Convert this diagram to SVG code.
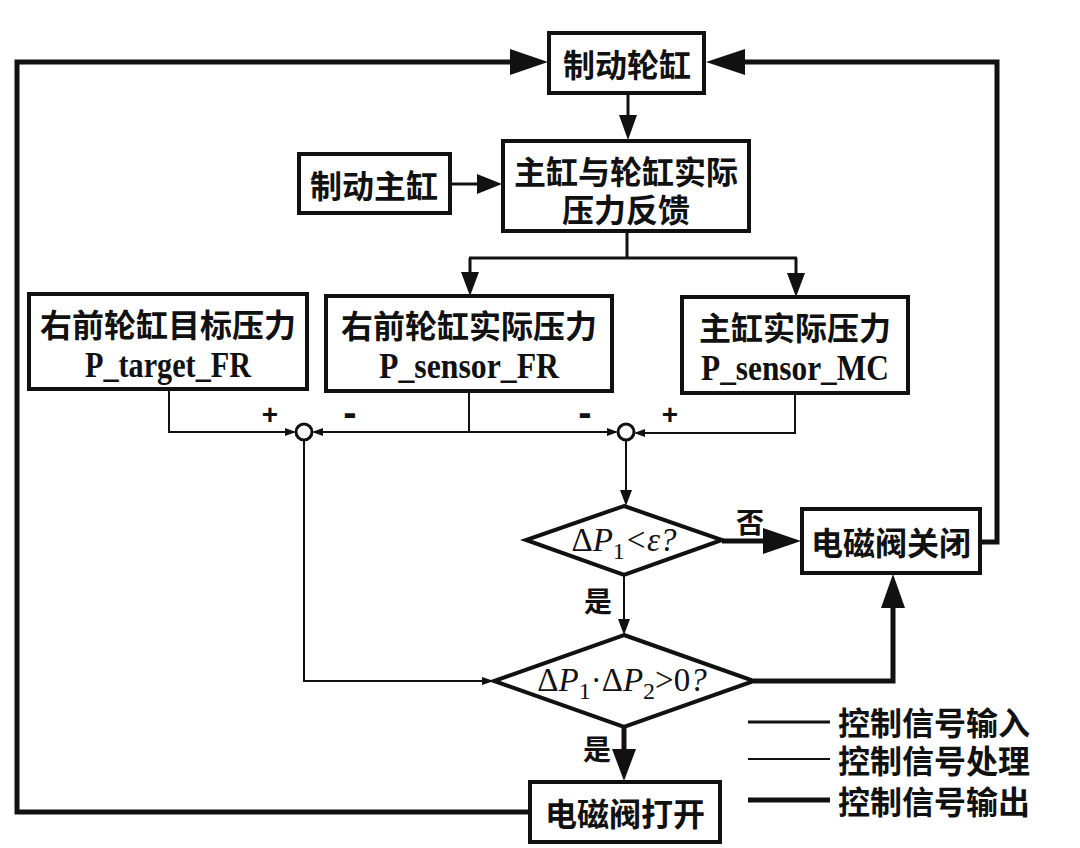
<svg xmlns="http://www.w3.org/2000/svg" width="1080" height="848" viewBox="0 0 1080 848">
<style>
.box{fill:#fff;stroke:#111;stroke-width:4}
.cjk{font-family:"Noto Sans CJK SC","Noto Sans",sans-serif;font-weight:700;font-size:32px;fill:#111}
.lat{font-family:"Liberation Serif",serif;font-weight:700;font-size:35px;fill:#111}
.math{font-family:"Liberation Serif",serif;font-style:italic;font-size:33px;fill:#111}
.up{font-style:normal}
.sign{font-family:"Liberation Sans",sans-serif;font-weight:700;font-size:28px;fill:#111}
.in{stroke:#111;stroke-width:3;fill:none}
.proc{stroke:#111;stroke-width:2;fill:none}
.out{stroke:#111;stroke-width:5;fill:none}
.ah{fill:#111}
.jn{fill:#fff;stroke:#111;stroke-width:3}
</style>
<rect width="1080" height="848" fill="#fff"/>
<g id="connectors">
  <path class="out" d="M530,812 H17 V62 H512"/>
  <polygon class="ah" points="548,62 510,49 510,75"/>
  <path class="out" d="M980,542 H997 V62 H744"/>
  <polygon class="ah" points="706,62 745,49 745,75"/>
  <path class="out" d="M722,541 H766"/>
  <polygon class="ah" points="801,541 763,528 763,554"/>
  <path class="out" d="M754,681 H893 V606"/>
  <polygon class="ah" points="893,574 881,608 905,608"/>
  <path class="out" d="M624,727 V752"/>
  <polygon class="ah" points="624,781 612,749 636,749"/>
  <path class="in" d="M628,93 V118"/>
  <polygon class="ah" points="628,140 619,115 637,115"/>
  <path class="in" d="M450,184 H480"/>
  <polygon class="ah" points="502,184 477,174 477,194"/>
  <path class="in" d="M627,231 V258 M469,258 H797 M470,258 V276 M796,258 V277"/>
  <polygon class="ah" points="470,296 461,272 479,272"/>
  <polygon class="ah" points="796,297 787,273 805,273"/>
  <path class="proc" d="M169,389 V432 H294"/>
  <polygon class="ah" points="296,432 285,428 285,436"/>
  <path class="proc" d="M469,391 V432 M314,432 H616"/>
  <polygon class="ah" points="312,432 323,428 323,436"/>
  <polygon class="ah" points="618,432 607,428 607,436"/>
  <path class="proc" d="M795,393 V433 H636"/>
  <polygon class="ah" points="634,433 645,429 645,437"/>
  <path class="proc" d="M304,440 V681 H491"/>
  <polygon class="ah" points="494,681 482,677 482,685"/>
  <path class="proc" d="M626,440 V494"/>
  <polygon class="ah" points="626,506 620,490 632,490"/>
  <path class="proc" d="M624,575 V624"/>
  <polygon class="ah" points="624,635 618,619 630,619"/>
</g>
<g id="n_wheel_cyl">
  <rect class="box" x="549" y="33" width="155" height="60"/>
  <text class="cjk" x="627" y="63" text-anchor="middle" dominant-baseline="central">制动轮缸</text>
</g>
<g id="n_feedback">
  <rect class="box" x="503" y="141" width="246" height="90"/>
  <text class="cjk" x="626" y="170" text-anchor="middle" dominant-baseline="central">主缸与轮缸实际</text>
  <text class="cjk" x="626" y="208" text-anchor="middle" dominant-baseline="central">压力反馈</text>
</g>
<g id="n_master_cyl">
  <rect class="box" x="299" y="154" width="151" height="59"/>
  <text class="cjk" x="374" y="184" text-anchor="middle" dominant-baseline="central">制动主缸</text>
</g>
<g id="n_target_fr">
  <rect class="box" x="29" y="294" width="278" height="95"/>
  <text class="cjk" x="168" y="323" text-anchor="middle" dominant-baseline="central">右前轮缸目标压力</text>
  <text class="lat" x="168" y="377" text-anchor="middle" textLength="166" lengthAdjust="spacingAndGlyphs">P_target_FR</text>
</g>
<g id="n_sensor_fr">
  <rect class="box" x="326" y="296" width="286" height="95"/>
  <text class="cjk" x="469" y="324" text-anchor="middle" dominant-baseline="central">右前轮缸实际压力</text>
  <text class="lat" x="469" y="378" text-anchor="middle" textLength="180" lengthAdjust="spacingAndGlyphs">P_sensor_FR</text>
</g>
<g id="n_sensor_mc">
  <rect class="box" x="682" y="297" width="226" height="96"/>
  <text class="cjk" x="795" y="326" text-anchor="middle" dominant-baseline="central">主缸实际压力</text>
  <text class="lat" x="795" y="380" text-anchor="middle" textLength="188" lengthAdjust="spacingAndGlyphs">P_sensor_MC</text>
</g>
<g id="n_sum1">
  <circle class="jn" cx="304" cy="432" r="8"/>
</g>
<g id="n_sum2">
  <circle class="jn" cx="626" cy="432" r="8"/>
</g>
<g id="signs">
  <text class="sign" x="270" y="424" text-anchor="middle">+</text>
  <text class="sign" x="350" y="426" text-anchor="middle" style="font-size:40px">-</text>
  <text class="sign" x="585" y="426" text-anchor="middle" style="font-size:40px">-</text>
  <text class="sign" x="670" y="424" text-anchor="middle">+</text>
</g>
<g id="n_dec1">
  <polygon class="box" points="624,506 722,540 624,575 526,540"/>
  <text class="math" x="624" y="551" text-anchor="middle"><tspan class="up">Δ</tspan>P<tspan class="up" font-size="24" dy="8">1</tspan><tspan dy="-8">&lt;ε?</tspan></text>
</g>
<g id="n_dec2">
  <polygon class="box" points="624,635 754,681 624,727 494,681"/>
  <text class="math" x="622" y="691" text-anchor="middle"><tspan class="up">Δ</tspan>P<tspan class="up" font-size="24" dy="8">1</tspan><tspan class="up" dy="-8">·Δ</tspan>P<tspan class="up" font-size="24" dy="8">2</tspan><tspan class="up" dy="-8">&gt;0</tspan>?</text>
</g>
<g id="labels">
  <text class="cjk" x="750" y="521" text-anchor="middle" dominant-baseline="central" style="font-size:28px">否</text>
  <text class="cjk" x="598" y="600" text-anchor="middle" dominant-baseline="central" style="font-size:28px">是</text>
  <text class="cjk" x="597" y="748" text-anchor="middle" dominant-baseline="central" style="font-size:28px">是</text>
</g>
<g id="n_valve_close">
  <rect class="box" x="802" y="509" width="178" height="64"/>
  <text class="cjk" x="891" y="541" text-anchor="middle" dominant-baseline="central">电磁阀关闭</text>
</g>
<g id="n_valve_open">
  <rect class="box" x="530" y="782" width="190" height="60"/>
  <text class="cjk" x="625" y="812" text-anchor="middle" dominant-baseline="central">电磁阀打开</text>
</g>
<g id="legend">
  <line class="in" x1="748" y1="722" x2="830" y2="722"/>
  <line class="proc" x1="748" y1="759" x2="830" y2="759"/>
  <line class="out" x1="748" y1="800" x2="830" y2="800"/>
  <text class="cjk" x="838" y="721" dominant-baseline="central">控制信号输入</text>
  <text class="cjk" x="838" y="759" dominant-baseline="central">控制信号处理</text>
  <text class="cjk" x="838" y="800" dominant-baseline="central">控制信号输出</text>
</g>
</svg>
